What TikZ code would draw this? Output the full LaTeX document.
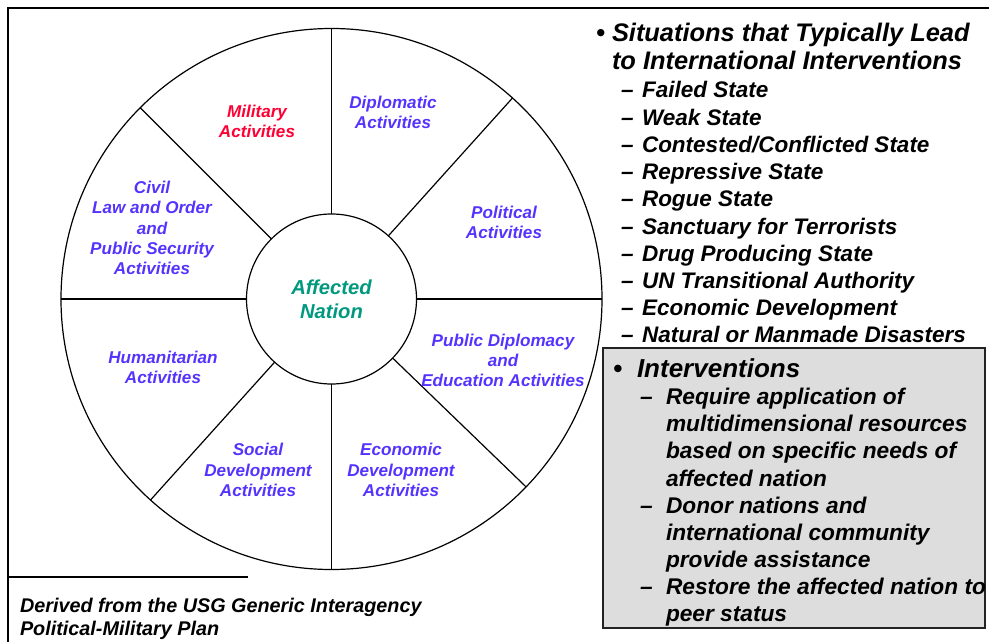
\documentclass[tikz,border=0pt]{standalone}
\usepackage{fontspec}
\setmainfont{Liberation Sans}
\definecolor{wblue}{HTML}{5533FF}
\definecolor{wred}{HTML}{FF0033}
\definecolor{wteal}{HTML}{00997F}
\definecolor{boxgray}{HTML}{DDDDDD}
\definecolor{boxline}{HTML}{222222}
\begin{document}
\begin{tikzpicture}[x=1pt,y=-1pt,
  every node/.style={inner sep=0pt,outer sep=0pt},
  wlabel/.style={font=\fontsize{17.1}{20.2}\selectfont\bfseries\itshape,text=wblue,align=center},
  ring/.style={draw,circle,line width=1.2pt,inner sep=0pt},
  spoke/.style={line width=1.2pt},
  frameline/.style={line width=2pt},
  ttl/.style={anchor=base west,font=\fontsize{25.4}{27}\selectfont\bfseries\itshape},
  ritem/.style={anchor=base west,font=\fontsize{22.5}{27}\selectfont\bfseries\itshape},
  bitem/.style={anchor=base west,font=\fontsize{22.7}{27}\selectfont\bfseries\itshape},
  bhead/.style={anchor=base west,font=\fontsize{26}{27}\selectfont\bfseries\itshape},
  note/.style={anchor=base west,font=\fontsize{19.8}{23}\selectfont\bfseries\itshape}]
\useasboundingbox (0,0) rectangle (989,642);
% frame
\coordinate (fTL) at (8,8);
\coordinate (fTR) at (989,8);
\coordinate (fBL) at (8,642);
\coordinate (nL) at (8,577);
\coordinate (nR) at (248,577);
\draw[frameline] (fBL) -- (fTL) -- (fTR);
\draw[line width=1.6pt] (nL) -- (nR);
% wheel
\node[ring,minimum size=541pt] (outer) at (331.5,299) {};
\node[ring,minimum size=170pt] (inner) at (331.5,299) {};
\foreach \a in {90,48.3,0,-44.7,-90,-132.4,180,135}
  \draw[spoke] (inner.\a) -- (outer.\a);
\node[font=\fontsize{20.2}{24}\selectfont\bfseries\itshape,text=wteal,align=center] (an) at (331.5,299) {Affected\\Nation};
\node[wlabel,text=wred] (mil) at (257,121) {Military\\Activities};
\node[wlabel] (dip) at (393,112.5) {Diplomatic\\Activities};
\node[wlabel] (pol) at (504,222) {Political\\Activities};
\node[wlabel] (pub) at (503,360.5) {Public Diplomacy\\and\\Education Activities};
\node[wlabel] (eco) at (401,470) {Economic\\Development\\Activities};
\node[wlabel] (soc) at (258,470) {Social\\Development\\Activities};
\node[wlabel] (hum) at (163,367) {Humanitarian\\Activities};
\node[wlabel] (civ) at (152,228) {Civil\\Law and Order\\and\\Public Security\\Activities};
% right list
\node[ttl] (b1) at (596,42) {•};
\node[ttl] (t1) at (612,42) {Situations that Typically Lead};
\node[ttl] (t2) at (612,70) {to International Interventions};
\foreach \txt [count=\i] in {Failed State,Weak State,Contested/Conflicted State,Repressive State,Rogue State,Sanctuary for Terrorists,Drug Producing State,UN Transitional Authority,Economic Development,Natural or Manmade Disasters}{
  \node[ritem] (d\i) at (621,{98+27.2*(\i-1)}) {–};
  \node[ritem] (s\i) at (642,{98+27.2*(\i-1)}) {\txt};
}
% interventions box
\node[draw=boxline,fill=boxgray,line width=1.6pt,minimum width=382pt,minimum height=280pt,anchor=north west] (box) at (603,348) {};
\node[bhead] (ib) at (613,377) {•};
\node[bhead] (it) at (637,377) {Interventions};
\node[bitem] (e1) at (640,404) {–};
\node[bitem] (i1) at (666,404) {Require application of};
\node[bitem] (i2) at (666,431) {multidimensional resources};
\node[bitem] (i3) at (666,458) {based on specific needs of};
\node[bitem] (i4) at (666,486) {affected nation};
\node[bitem] (e2) at (640,513) {–};
\node[bitem] (i5) at (666,513) {Donor nations and};
\node[bitem] (i6) at (666,540) {international community};
\node[bitem] (i7) at (666,567) {provide assistance};
\node[bitem] (e3) at (640,594) {–};
\node[bitem] (i8) at (666,594) {Restore the affected nation to};
\node[bitem] (i9) at (666,621) {peer status};
% note
\node[note] (n1) at (20,612) {Derived from the USG Generic Interagency};
\node[note] (n2) at (20,635) {Political-Military Plan};
\end{tikzpicture}
\end{document}
